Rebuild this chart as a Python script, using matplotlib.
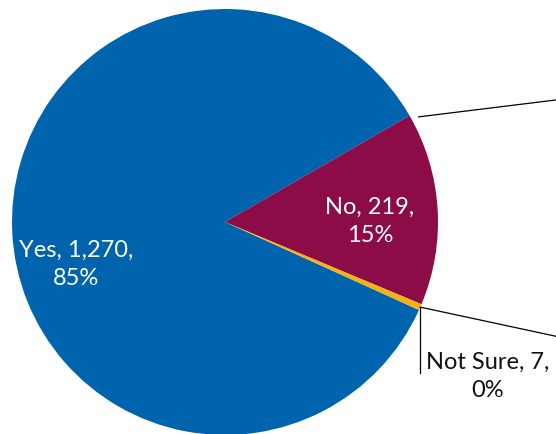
import numpy as np
import matplotlib.pyplot as plt

categories = ["Yes", "No", "Not Sure"]
counts = [1270, 219, 7]
colors = ["#0063AE", "#8B0C46", "#F6B112"]

plt.rcParams["font.family"] = ["Lato", "DejaVu Sans"]

W, H = 556, 435
fig = plt.figure(figsize=(W / 100, H / 100), dpi=100)
ax = fig.add_axes([0, 0, 1, 1])

cx, cy, R = 225, 212, 213
start = 335.6
wedges, _ = ax.pie(counts, colors=colors, startangle=start, counterclock=False,
                   center=(cx, cy), radius=R, frame=True,
                   wedgeprops=dict(linewidth=0))
ax.set_xlim(0, W)
ax.set_ylim(0, H)
ax.set_aspect("equal")
ax.axis("off")

total = sum(counts)
FS = 17


def label_text(cat, val):
    return f"{cat}, {val:,},\n{100 * val / total:.0f}%"


def polar(angle_deg, dist):
    a = np.deg2rad(angle_deg)
    return cx + dist * R * np.cos(a), cy + dist * R * np.sin(a)


# inside labels: (angle, distance from centre as fraction of radius)
inside = {"Yes": (195.5, 0.725), "No": (0.5, 0.68)}
for cat, val in zip(categories, counts):
    if cat in inside:
        x, y = polar(*inside[cat])
        ax.text(x, y, label_text(cat, val), ha="center", va="center",
                color="white", fontsize=FS, linespacing=1.4)

# small slice: label outside with a leader line
ns = wedges[2]
mid = 0.5 * (ns.theta1 + ns.theta2)
px, py = polar(mid, 1.0)
ax.plot([px, px], [py, py - 66], color="black", lw=0.9, clip_on=False)
ax.text(px + 6, py - 68, label_text("Not Sure", counts[2]), ha="left",
        va="center", color="#111111", fontsize=FS, linespacing=1.4,
        multialignment="center")

# leader lines running off to the right
x1, y1 = polar(wedges[1].theta2 - 1.5, 1.035)
ax.plot([x1, W + 5], [y1, y1 + (W + 5 - x1) * 17 / 138], color="black",
        lw=0.9, clip_on=False)
ax.plot([px, W + 5], [py, py - (W + 5 - px) * 29 / 135], color="black",
        lw=0.9, clip_on=False)

fig.savefig("out.png", dpi=100)
